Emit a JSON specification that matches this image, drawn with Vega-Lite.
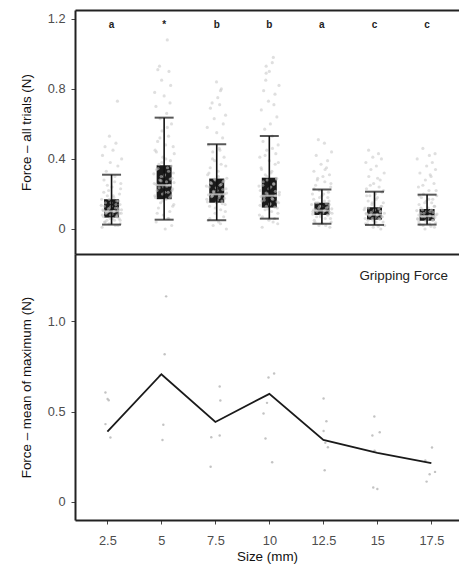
{
"$schema":"https://vega.github.io/schema/vega-lite/v6.json",
"padding":{"left":19,"top":10,"right":0,"bottom":0},
"background":"white",
"config":{"view":{"stroke":"transparent","strokeWidth":0},"axis":{"grid":false,"domainColor":"#222","domainWidth":2,"tickColor":"#444","tickSize":4,"tickWidth":1,"labelColor":"#4d4d4d","labelFontSize":12.8,"labelFont":"Liberation Sans","titleFont":"Liberation Sans","titleFontSize":13.4,"titleFontWeight":"normal","titleColor":"#111","labelPadding":6},"concat":{"spacing":0}},
"datasets":{
"box":[
{"size":2.5,"lo":0.025,"q1":0.065,"med":0.101,"q3":0.17,"hi":0.31,"lab":"a"},
{"size":5,"lo":0.053,"q1":0.17,"med":0.25,"q3":0.364,"hi":0.636,"lab":"*"},
{"size":7.5,"lo":0.05,"q1":0.15,"med":0.198,"q3":0.288,"hi":0.484,"lab":"b"},
{"size":10,"lo":0.059,"q1":0.122,"med":0.19,"q3":0.293,"hi":0.531,"lab":"b"},
{"size":12.5,"lo":0.03,"q1":0.08,"med":0.105,"q3":0.15,"hi":0.225,"lab":"a"},
{"size":15,"lo":0.023,"q1":0.053,"med":0.082,"q3":0.124,"hi":0.213,"lab":"c"},
{"size":17.5,"lo":0.025,"q1":0.047,"med":0.073,"q3":0.114,"hi":0.196,"lab":"c"}
],
"pts":[
{"x":2.05,"f":0.01},{"x":2.81,"f":0.02},{"x":2.38,"f":0.03},{"x":2.92,"f":0.03},{"x":2.20,"f":0.04},{"x":2.64,"f":0.05},{"x":2.28,"f":0.05},{"x":2.55,"f":0.06},{"x":2.86,"f":0.06},{"x":2.12,"f":0.07},{"x":2.72,"f":0.07},{"x":2.46,"f":0.08},{"x":2.77,"f":0.08},{"x":2.23,"f":0.09},{"x":2.96,"f":0.09},{"x":2.33,"f":0.10},{"x":2.59,"f":0.10},{"x":2.09,"f":0.11},{"x":2.83,"f":0.11},{"x":2.42,"f":0.12},{"x":2.69,"f":0.12},{"x":2.16,"f":0.13},{"x":2.90,"f":0.14},{"x":2.48,"f":0.15},{"x":2.75,"f":0.16},{"x":2.03,"f":0.17},{"x":2.61,"f":0.18},{"x":2.30,"f":0.19},{"x":2.88,"f":0.20},{"x":2.36,"f":0.22},{"x":2.52,"f":0.24},{"x":2.94,"f":0.26},{"x":2.14,"f":0.28},{"x":2.66,"f":0.30},{"x":2.25,"f":0.33},{"x":2.80,"f":0.36},{"x":2.44,"f":0.38},{"x":2.98,"f":0.40},{"x":2.07,"f":0.42},{"x":2.57,"f":0.45},{"x":2.19,"f":0.47},{"x":2.71,"f":0.49},{"x":2.40,"f":0.53},{"x":2.78,"f":0.73},
{"x":2.68,"f":0.02},{"x":2.17,"f":0.04},{"x":2.91,"f":0.05},{"x":2.43,"f":0.06},{"x":2.76,"f":0.07},{"x":2.06,"f":0.08},{"x":2.53,"f":0.085},{"x":2.87,"f":0.09},{"x":2.26,"f":0.095},{"x":2.63,"f":0.10},{"x":2.11,"f":0.105},{"x":2.97,"f":0.11},{"x":2.35,"f":0.115},{"x":2.79,"f":0.12},{"x":2.48,"f":0.13},{"x":2.01,"f":0.135},{"x":2.71,"f":0.14},{"x":2.21,"f":0.15},{"x":2.84,"f":0.16},{"x":2.39,"f":0.17},{"x":2.58,"f":0.19},{"x":2.13,"f":0.21},{"x":2.93,"f":0.23},{"x":2.30,"f":0.25},{"x":2.65,"f":0.27},
{"x":5.05,"f":0.00},{"x":5.36,"f":0.02},{"x":4.62,"f":0.04},{"x":5.22,"f":0.06},{"x":4.96,"f":0.08},{"x":5.27,"f":0.10},{"x":4.73,"f":0.12},{"x":5.46,"f":0.14},{"x":4.83,"f":0.15},{"x":5.09,"f":0.17},{"x":4.59,"f":0.18},{"x":5.33,"f":0.19},{"x":4.92,"f":0.20},{"x":5.19,"f":0.21},{"x":4.66,"f":0.22},{"x":5.40,"f":0.23},{"x":4.98,"f":0.24},{"x":5.25,"f":0.25},{"x":4.53,"f":0.26},{"x":5.11,"f":0.27},{"x":4.80,"f":0.28},{"x":5.38,"f":0.29},{"x":4.86,"f":0.30},{"x":5.02,"f":0.31},{"x":5.44,"f":0.32},{"x":4.64,"f":0.34},{"x":5.16,"f":0.35},{"x":4.75,"f":0.37},{"x":5.30,"f":0.39},{"x":4.94,"f":0.41},{"x":5.48,"f":0.43},{"x":4.57,"f":0.45},{"x":5.07,"f":0.48},{"x":4.69,"f":0.50},{"x":5.21,"f":0.53},{"x":4.90,"f":0.56},{"x":5.35,"f":0.60},{"x":4.81,"f":0.63},{"x":5.12,"f":0.66},{"x":4.61,"f":0.70},{"x":5.28,"f":0.72},{"x":5.00,"f":0.76},{"x":4.55,"f":0.78},{"x":5.31,"f":0.82},{"x":4.88,"f":0.85},{"x":5.23,"f":0.90},{"x":4.70,"f":0.91},{"x":4.78,"f":0.93},{"x":5.15,"f":1.08},
{"x":5.18,"f":0.06},{"x":4.67,"f":0.09},{"x":5.41,"f":0.13},{"x":4.93,"f":0.16},{"x":5.26,"f":0.18},{"x":4.56,"f":0.19},{"x":5.03,"f":0.21},{"x":5.37,"f":0.22},{"x":4.76,"f":0.235},{"x":5.13,"f":0.245},{"x":4.61,"f":0.255},{"x":5.47,"f":0.265},{"x":4.85,"f":0.275},{"x":5.29,"f":0.285},{"x":4.98,"f":0.30},{"x":4.51,"f":0.315},{"x":5.21,"f":0.33},{"x":4.71,"f":0.345},{"x":5.34,"f":0.36},{"x":4.89,"f":0.38},{"x":5.08,"f":0.40},{"x":4.63,"f":0.44},{"x":5.43,"f":0.47},{"x":4.80,"f":0.52},{"x":5.15,"f":0.58},
{"x":7.96,"f":0.00},{"x":7.33,"f":0.02},{"x":7.59,"f":0.04},{"x":7.09,"f":0.05},{"x":7.83,"f":0.07},{"x":7.42,"f":0.09},{"x":7.69,"f":0.11},{"x":7.16,"f":0.13},{"x":7.90,"f":0.14},{"x":7.48,"f":0.15},{"x":7.75,"f":0.16},{"x":7.03,"f":0.17},{"x":7.61,"f":0.18},{"x":7.30,"f":0.19},{"x":7.88,"f":0.20},{"x":7.36,"f":0.21},{"x":7.52,"f":0.22},{"x":7.94,"f":0.23},{"x":7.14,"f":0.24},{"x":7.66,"f":0.25},{"x":7.25,"f":0.26},{"x":7.80,"f":0.27},{"x":7.44,"f":0.28},{"x":7.98,"f":0.29},{"x":7.07,"f":0.31},{"x":7.57,"f":0.33},{"x":7.19,"f":0.35},{"x":7.71,"f":0.37},{"x":7.40,"f":0.39},{"x":7.85,"f":0.41},{"x":7.31,"f":0.44},{"x":7.62,"f":0.46},{"x":7.11,"f":0.48},{"x":7.78,"f":0.52},{"x":7.50,"f":0.55},{"x":7.05,"f":0.58},{"x":7.81,"f":0.60},{"x":7.38,"f":0.63},{"x":7.92,"f":0.65},{"x":7.20,"f":0.69},{"x":7.64,"f":0.71},{"x":7.28,"f":0.72},{"x":7.55,"f":0.75},{"x":7.68,"f":0.79},{"x":7.72,"f":0.80},{"x":7.49,"f":0.84},
{"x":7.68,"f":0.03},{"x":7.17,"f":0.06},{"x":7.91,"f":0.10},{"x":7.43,"f":0.12},{"x":7.76,"f":0.145},{"x":7.06,"f":0.155},{"x":7.53,"f":0.165},{"x":7.87,"f":0.175},{"x":7.26,"f":0.185},{"x":7.63,"f":0.19},{"x":7.11,"f":0.195},{"x":7.97,"f":0.205},{"x":7.35,"f":0.215},{"x":7.79,"f":0.225},{"x":7.48,"f":0.235},{"x":7.01,"f":0.245},{"x":7.71,"f":0.255},{"x":7.21,"f":0.265},{"x":7.84,"f":0.275},{"x":7.39,"f":0.285},{"x":7.58,"f":0.30},{"x":7.13,"f":0.32},{"x":7.93,"f":0.36},{"x":7.30,"f":0.40},{"x":7.65,"f":0.45},
{"x":9.66,"f":0.01},{"x":10.40,"f":0.03},{"x":9.98,"f":0.05},{"x":10.25,"f":0.06},{"x":9.53,"f":0.08},{"x":10.11,"f":0.10},{"x":9.80,"f":0.11},{"x":10.38,"f":0.12},{"x":9.86,"f":0.13},{"x":10.02,"f":0.14},{"x":10.44,"f":0.15},{"x":9.64,"f":0.16},{"x":10.16,"f":0.17},{"x":9.75,"f":0.18},{"x":10.30,"f":0.19},{"x":9.94,"f":0.20},{"x":10.48,"f":0.21},{"x":9.57,"f":0.22},{"x":10.07,"f":0.24},{"x":9.69,"f":0.25},{"x":10.21,"f":0.26},{"x":9.90,"f":0.28},{"x":10.35,"f":0.29},{"x":9.81,"f":0.31},{"x":10.12,"f":0.33},{"x":9.61,"f":0.35},{"x":10.28,"f":0.37},{"x":10.00,"f":0.39},{"x":9.55,"f":0.41},{"x":10.31,"f":0.43},{"x":9.88,"f":0.45},{"x":10.42,"f":0.48},{"x":9.70,"f":0.50},{"x":10.14,"f":0.53},{"x":9.78,"f":0.57},{"x":10.05,"f":0.60},{"x":10.36,"f":0.64},{"x":9.62,"f":0.68},{"x":10.22,"f":0.71},{"x":9.96,"f":0.73},{"x":10.27,"f":0.77},{"x":9.73,"f":0.79},{"x":10.46,"f":0.82},{"x":9.83,"f":0.85},{"x":9.85,"f":0.89},{"x":10.00,"f":0.90},{"x":9.85,"f":0.93},{"x":10.14,"f":0.95},{"x":10.19,"f":0.98},
{"x":10.18,"f":0.04},{"x":9.67,"f":0.07},{"x":10.41,"f":0.09},{"x":9.93,"f":0.115},{"x":10.26,"f":0.125},{"x":9.56,"f":0.135},{"x":10.03,"f":0.145},{"x":10.37,"f":0.155},{"x":9.76,"f":0.165},{"x":10.13,"f":0.175},{"x":9.61,"f":0.185},{"x":10.47,"f":0.195},{"x":9.85,"f":0.205},{"x":10.29,"f":0.215},{"x":9.98,"f":0.23},{"x":9.51,"f":0.245},{"x":10.21,"f":0.255},{"x":9.71,"f":0.27},{"x":10.34,"f":0.285},{"x":9.89,"f":0.30},{"x":10.08,"f":0.32},{"x":9.63,"f":0.34},{"x":10.43,"f":0.38},{"x":9.80,"f":0.42},{"x":10.15,"f":0.46},
{"x":12.88,"f":0.01},{"x":12.36,"f":0.02},{"x":12.52,"f":0.03},{"x":12.94,"f":0.04},{"x":12.14,"f":0.05},{"x":12.66,"f":0.06},{"x":12.25,"f":0.07},{"x":12.80,"f":0.08},{"x":12.44,"f":0.08},{"x":12.98,"f":0.09},{"x":12.07,"f":0.10},{"x":12.57,"f":0.10},{"x":12.19,"f":0.11},{"x":12.71,"f":0.12},{"x":12.40,"f":0.13},{"x":12.85,"f":0.14},{"x":12.31,"f":0.15},{"x":12.62,"f":0.16},{"x":12.11,"f":0.17},{"x":12.78,"f":0.18},{"x":12.50,"f":0.19},{"x":12.05,"f":0.20},{"x":12.81,"f":0.21},{"x":12.38,"f":0.22},{"x":12.92,"f":0.24},{"x":12.20,"f":0.25},{"x":12.64,"f":0.27},{"x":12.28,"f":0.28},{"x":12.55,"f":0.30},{"x":12.86,"f":0.31},{"x":12.12,"f":0.33},{"x":12.72,"f":0.35},{"x":12.46,"f":0.37},{"x":12.77,"f":0.39},{"x":12.23,"f":0.42},{"x":12.96,"f":0.44},{"x":12.62,"f":0.49},{"x":12.33,"f":0.51},
{"x":12.68,"f":0.02},{"x":12.17,"f":0.04},{"x":12.91,"f":0.06},{"x":12.43,"f":0.07},{"x":12.76,"f":0.08},{"x":12.06,"f":0.085},{"x":12.53,"f":0.09},{"x":12.87,"f":0.095},{"x":12.26,"f":0.10},{"x":12.63,"f":0.105},{"x":12.11,"f":0.11},{"x":12.97,"f":0.115},{"x":12.35,"f":0.12},{"x":12.79,"f":0.125},{"x":12.48,"f":0.13},{"x":12.01,"f":0.14},{"x":12.71,"f":0.145},{"x":12.21,"f":0.15},{"x":12.84,"f":0.16},{"x":12.39,"f":0.18},{"x":12.58,"f":0.20},{"x":12.13,"f":0.23},{"x":12.93,"f":0.26},{"x":12.30,"f":0.29},{"x":12.65,"f":0.34},
{"x":15.30,"f":0.00},{"x":14.94,"f":0.01},{"x":15.48,"f":0.02},{"x":14.57,"f":0.03},{"x":15.07,"f":0.04},{"x":14.69,"f":0.05},{"x":15.21,"f":0.06},{"x":14.90,"f":0.06},{"x":15.35,"f":0.07},{"x":14.81,"f":0.08},{"x":15.12,"f":0.08},{"x":14.61,"f":0.09},{"x":15.28,"f":0.10},{"x":15.00,"f":0.11},{"x":14.55,"f":0.12},{"x":15.31,"f":0.13},{"x":14.88,"f":0.14},{"x":15.42,"f":0.15},{"x":14.70,"f":0.16},{"x":15.14,"f":0.18},{"x":14.78,"f":0.19},{"x":15.05,"f":0.20},{"x":15.36,"f":0.21},{"x":14.62,"f":0.23},{"x":15.22,"f":0.24},{"x":14.96,"f":0.26},{"x":15.27,"f":0.28},{"x":14.73,"f":0.30},{"x":15.46,"f":0.32},{"x":14.83,"f":0.34},{"x":15.09,"f":0.36},{"x":14.59,"f":0.38},{"x":15.33,"f":0.40},{"x":14.92,"f":0.41},{"x":15.19,"f":0.43},{"x":14.72,"f":0.45},
{"x":15.18,"f":0.015},{"x":14.67,"f":0.03},{"x":15.41,"f":0.04},{"x":14.93,"f":0.05},{"x":15.26,"f":0.055},{"x":14.56,"f":0.06},{"x":15.03,"f":0.065},{"x":15.37,"f":0.07},{"x":14.76,"f":0.075},{"x":15.13,"f":0.08},{"x":14.61,"f":0.085},{"x":15.47,"f":0.09},{"x":14.85,"f":0.095},{"x":15.29,"f":0.10},{"x":14.98,"f":0.105},{"x":14.51,"f":0.11},{"x":15.21,"f":0.115},{"x":14.71,"f":0.12},{"x":15.34,"f":0.13},{"x":14.89,"f":0.15},{"x":15.08,"f":0.17},{"x":14.63,"f":0.19},{"x":15.43,"f":0.22},{"x":14.80,"f":0.25},{"x":15.15,"f":0.29},
{"x":17.40,"f":0.00},{"x":17.85,"f":0.01},{"x":17.31,"f":0.02},{"x":17.62,"f":0.03},{"x":17.11,"f":0.04},{"x":17.78,"f":0.05},{"x":17.50,"f":0.05},{"x":17.05,"f":0.06},{"x":17.81,"f":0.07},{"x":17.38,"f":0.07},{"x":17.92,"f":0.08},{"x":17.20,"f":0.09},{"x":17.64,"f":0.10},{"x":17.28,"f":0.11},{"x":17.55,"f":0.12},{"x":17.86,"f":0.13},{"x":17.12,"f":0.14},{"x":17.72,"f":0.15},{"x":17.46,"f":0.16},{"x":17.77,"f":0.17},{"x":17.23,"f":0.18},{"x":17.96,"f":0.19},{"x":17.33,"f":0.20},{"x":17.59,"f":0.22},{"x":17.09,"f":0.24},{"x":17.83,"f":0.26},{"x":17.42,"f":0.28},{"x":17.69,"f":0.30},{"x":17.16,"f":0.32},{"x":17.90,"f":0.34},{"x":17.48,"f":0.36},{"x":17.75,"f":0.38},{"x":17.03,"f":0.40},{"x":17.61,"f":0.42},{"x":17.88,"f":0.43},{"x":17.30,"f":0.46},
{"x":17.68,"f":0.015},{"x":17.17,"f":0.025},{"x":17.91,"f":0.035},{"x":17.43,"f":0.045},{"x":17.76,"f":0.05},{"x":17.06,"f":0.055},{"x":17.53,"f":0.06},{"x":17.87,"f":0.065},{"x":17.26,"f":0.07},{"x":17.63,"f":0.075},{"x":17.11,"f":0.08},{"x":17.97,"f":0.085},{"x":17.35,"f":0.09},{"x":17.79,"f":0.095},{"x":17.48,"f":0.10},{"x":17.01,"f":0.105},{"x":17.71,"f":0.11},{"x":17.21,"f":0.12},{"x":17.84,"f":0.13},{"x":17.39,"f":0.15},{"x":17.58,"f":0.17},{"x":17.13,"f":0.19},{"x":17.93,"f":0.22},{"x":17.30,"f":0.25},{"x":17.65,"f":0.31}
],
"mean":[
{"size":2.5,"m":0.389},{"size":5,"m":0.707},{"size":7.5,"m":0.442},{"size":10,"m":0.598},{"size":12.5,"m":0.342},{"size":15,"m":0.27},{"size":17.5,"m":0.214}
],
"mx":[
{"x":2.41,"f":0.606},{"x":2.51,"f":0.57},{"x":2.56,"f":0.563},{"x":2.41,"f":0.43},{"x":2.64,"f":0.356},
{"x":5.22,"f":1.139},{"x":5.15,"f":0.818},{"x":4.93,"f":0.70},{"x":5.09,"f":0.426},{"x":5.05,"f":0.342},
{"x":7.70,"f":0.639},{"x":7.73,"f":0.561},{"x":7.31,"f":0.357},{"x":7.70,"f":0.367},{"x":7.28,"f":0.194},
{"x":9.96,"f":0.689},{"x":10.22,"f":0.711},{"x":9.89,"f":0.548},{"x":9.73,"f":0.489},{"x":9.82,"f":0.35},{"x":10.13,"f":0.218},
{"x":12.51,"f":0.572},{"x":12.64,"f":0.446},{"x":12.51,"f":0.392},{"x":12.59,"f":0.326},{"x":12.71,"f":0.302},{"x":12.56,"f":0.174},
{"x":14.86,"f":0.472},{"x":14.77,"f":0.367},{"x":15.11,"f":0.385},{"x":14.87,"f":0.283},{"x":14.81,"f":0.078},{"x":15.0,"f":0.07},
{"x":17.53,"f":0.30},{"x":17.22,"f":0.228},{"x":17.67,"f":0.165},{"x":17.42,"f":0.152},{"x":17.28,"f":0.111}
]
},
"vconcat":[
{"width":384,"height":244,"view":{"stroke":null},
 "layer":[
  {"data":{"name":"box"},"mark":{"type":"bar","width":15,"color":"#1a1a1a"},
   "encoding":{"x":{"field":"size","type":"quantitative","scale":{"domain":[1.0,18.78],"nice":false,"zero":false},"axis":{"orient":"top","labels":false,"ticks":false,"title":null}},
   "y":{"field":"q1","type":"quantitative","scale":{"domain":[-0.143,1.251],"nice":false,"zero":false},"axis":{"values":[0,0.4,0.8,1.2],"format":".2~g","title":"Force – all trials (N)","titlePadding":14}},
   "y2":{"field":"q3"}}},
  {"data":{"name":"pts"},"mark":{"type":"circle","size":10,"color":"#c4c4c4","opacity":0.55},
   "encoding":{"x":{"field":"x","type":"quantitative"},"y":{"field":"f","type":"quantitative"}}},
  {"data":{"name":"box"},"mark":{"type":"rule","color":"#111","strokeWidth":1.6},
   "encoding":{"x":{"field":"size","type":"quantitative"},"y":{"field":"lo","type":"quantitative"},"y2":{"field":"hi"}}},
  {"data":{"name":"box"},"mark":{"type":"tick","orient":"horizontal","size":19,"thickness":2,"color":"#111"},
   "encoding":{"x":{"field":"size","type":"quantitative"},"y":{"field":"lo","type":"quantitative"}}},
  {"data":{"name":"box"},"mark":{"type":"tick","orient":"horizontal","size":19,"thickness":2,"color":"#111"},
   "encoding":{"x":{"field":"size","type":"quantitative"},"y":{"field":"hi","type":"quantitative"}}},
  {"data":{"name":"box"},"mark":{"type":"tick","orient":"horizontal","size":15,"thickness":2,"color":"#e6e6e6"},
   "encoding":{"x":{"field":"size","type":"quantitative"},"y":{"field":"med","type":"quantitative"}}},
  {"data":{"name":"box"},"mark":{"type":"text","font":"Liberation Sans","fontWeight":"bold","fontSize":10,"color":"#222","baseline":"middle"},
   "encoding":{"x":{"field":"size","type":"quantitative"},"y":{"datum":1.166},"text":{"field":"lab"}}},
  {"mark":{"type":"rule","color":"white","strokeWidth":4},
   "encoding":{"x":{"datum":18.78,"type":"quantitative"}}}
 ]
},
{"width":384,"height":266,"view":{"stroke":null},
 "layer":[
  {"data":{"name":"mx"},"mark":{"type":"circle","size":6,"color":"#bdbdbd","opacity":0.9},
   "encoding":{"x":{"field":"x","type":"quantitative","scale":{"domain":[1.0,18.78],"nice":false,"zero":false},"axis":{"orient":"top","labels":false,"ticks":false,"title":null}},
   "y":{"field":"f","type":"quantitative","scale":{"domain":[-0.102,1.374],"nice":false,"zero":false},"axis":{"values":[0,0.5,1],"labelExpr":"datum.value == 1 ? '1.0' : format(datum.value, '.2~g')","title":"Force – mean of maximum (N)","titlePadding":14}}}},
  {"data":{"name":"mean"},"mark":{"type":"line","color":"#1a1a1a","strokeWidth":1.8},
   "encoding":{"x":{"field":"size","type":"quantitative","axis":{"orient":"bottom","values":[2.5,5,7.5,10,12.5,15,17.5],"labelExpr":"format(datum.value, '.3~g')","title":"Size (mm)","labelPadding":10,"titlePadding":3}},"y":{"field":"m","type":"quantitative"}}},
  {"data":{"values":[{"t":"Gripping Force"}]},"mark":{"type":"text","font":"Liberation Sans","fontSize":13.4,"color":"#222","align":"right","baseline":"middle"},
   "encoding":{"x":{"datum":18.27,"type":"quantitative","axis":null},"y":{"datum":1.253,"type":"quantitative"},"text":{"field":"t"}}},
  {"mark":{"type":"rule","color":"white","strokeWidth":4},
   "encoding":{"x":{"datum":18.78,"type":"quantitative","axis":null}}}
 ],
 "resolve":{"axis":{"x":"independent"}}
}
]
}
